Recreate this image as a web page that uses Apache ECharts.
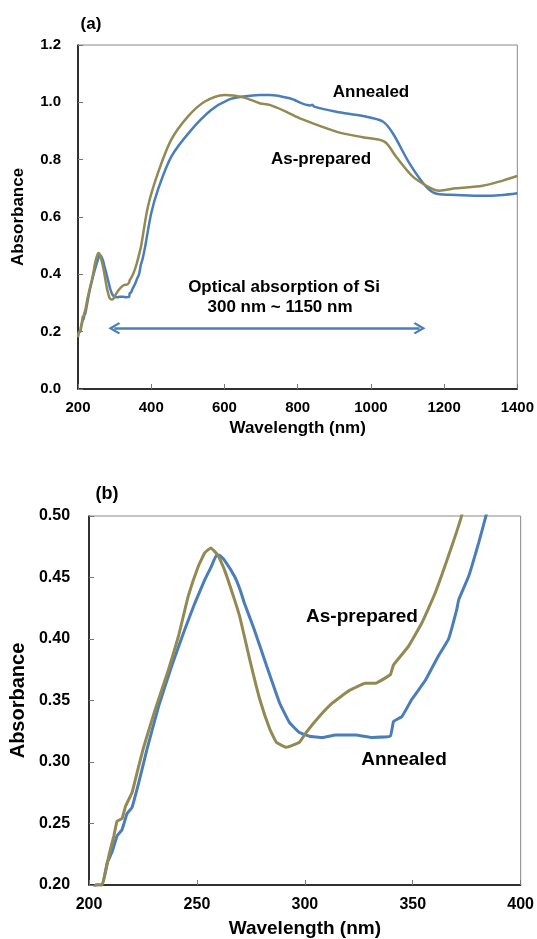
<!DOCTYPE html>
<html>
<head>
<meta charset="utf-8">
<script src="https://cdn.jsdelivr.net/npm/echarts@6/dist/echarts.min.js"></script>
<style>
  html, body { margin: 0; padding: 0; background: #fff; }
  #main { width: 537px; height: 939px; }
</style>
</head>
<body>
<div id="main"></div>
<script>
// wavelength (nm) / absorbance
var annealedNm = [200, 203, 206.1, 208.4, 210.7, 213, 215.3, 217.6, 219.9, 223, 226.8, 232.2, 238.3, 244.4, 249, 253.6,
    256.7, 259, 260.5, 262.8, 267.4, 270, 272, 276.3, 282.5, 288.3, 292.9, 297.5, 302.1, 308.2, 314.3, 323.5,
    331.2, 339.6, 341.1, 345, 349.6, 355.7, 361.8, 366.6, 370.4, 371.3, 375.9, 380.5, 383.9, 400, 418, 454.5,
    509, 563.6, 609, 650.9, 696.3, 723.6, 778.1, 835, 840, 845, 905.4, 978, 1032.6, 1059.9, 1105.4, 1150.9,
    1182.7, 1232.7, 1305.4, 1359.9, 1400];
var annealedAbs = [0.185, 0.200, 0.200, 0.218, 0.227, 0.240, 0.245, 0.258, 0.263, 0.283, 0.310, 0.345, 0.378, 0.408, 0.429, 0.448,
    0.459, 0.468, 0.468, 0.464, 0.451, 0.440, 0.429, 0.409, 0.377, 0.348, 0.332, 0.324, 0.321, 0.320, 0.322, 0.322,
    0.320, 0.321, 0.333, 0.337, 0.351, 0.366, 0.386, 0.400, 0.424, 0.432, 0.451, 0.478, 0.500, 0.613, 0.694, 0.810,
    0.903, 0.973, 1.008, 1.020, 1.026, 1.026, 1.014, 0.989, 0.992, 0.985, 0.967, 0.952, 0.933, 0.892, 0.787, 0.706,
    0.680, 0.677, 0.674, 0.677, 0.683];

var asPreparedNm = [200, 203, 206.1, 209.2, 211.5, 213, 215.3, 216.9, 219.9, 222.2, 225.3, 230.7, 236.8, 241.4, 246, 250.6,
    253.6, 256.4, 259.8, 262.8, 267.4, 270, 274.5, 279.1, 283.7, 286.8, 291.4, 297.5, 300.6, 306.7, 312.8, 320.5,
    328.1, 332.7, 339.6, 341.1, 348, 354.2, 360.3, 368, 372.6, 391, 418, 454.5, 500, 545.5, 600, 650.9,
    696.3, 723.6, 769, 810, 905.4, 978, 1037, 1069, 1114.5, 1169, 1187, 1232.7, 1305, 1360, 1400];
var asPreparedAbs = [0.180, 0.200, 0.200, 0.224, 0.240, 0.252, 0.254, 0.264, 0.275, 0.291, 0.312, 0.343, 0.375, 0.402, 0.435, 0.459,
    0.470, 0.474, 0.468, 0.456, 0.432, 0.417, 0.383, 0.351, 0.327, 0.316, 0.312, 0.316, 0.324, 0.337, 0.348, 0.358,
    0.364, 0.364, 0.371, 0.379, 0.394, 0.413, 0.437, 0.475, 0.500, 0.636, 0.752, 0.869, 0.950, 1.002, 1.026, 1.018,
    0.997, 0.991, 0.967, 0.942, 0.898, 0.878, 0.863, 0.810, 0.741, 0.697, 0.692, 0.700, 0.709, 0.727, 0.743];

// arrow span of the Si absorption band (nm) and its height
var siBandNm = [299, 1133];
var siBandAbs = 0.212;

var BLUE = '#4a7ebb';
var OLIVE = '#938953';
var FONT = '"Liberation Sans", Arial, sans-serif';

function pairs(xs, ys) {
    return xs.map(function (x, i) { return [x, ys[i]]; });
}

function xAxisCfg(idx, min, max, step, fs, margin, gap, nameFs) {
    return {
        gridIndex: idx, type: 'value', min: min, max: max, interval: step,
        name: 'Wavelength (nm)', nameLocation: 'middle', nameGap: gap,
        nameTextStyle: { fontFamily: FONT, fontWeight: 'bold', fontSize: nameFs, color: '#000' },
        axisLine: { show: true, onZero: false, lineStyle: { color: '#000', width: 1.5 } },
        axisTick: { show: true, inside: true, length: 5, lineStyle: { color: '#777' } },
        axisLabel: {
            fontFamily: FONT, fontWeight: 'bold', fontSize: fs, color: '#000', margin: margin,
            formatter: function (v) { return String(v); }
        },
        splitLine: { show: false }
    };
}

function yAxisCfg(idx, min, max, step, digits, fs, margin, gap, nameFs) {
    return {
        gridIndex: idx, type: 'value', min: min, max: max, interval: step,
        name: 'Absorbance', nameLocation: 'middle', nameGap: gap,
        nameTextStyle: { fontFamily: FONT, fontWeight: 'bold', fontSize: nameFs, color: '#000' },
        axisLine: { show: true, onZero: false, lineStyle: { color: '#000', width: 1.5 } },
        axisTick: { show: true, inside: true, length: 5, lineStyle: { color: '#777' } },
        axisLabel: {
            fontFamily: FONT, fontWeight: 'bold', fontSize: fs, color: '#000', margin: margin,
            formatter: function (v) { return v.toFixed(digits); }
        },
        splitLine: { show: false }
    };
}

function label(text, x, y, size) {
    return {
        type: 'text', x: x, y: y, z: 10,
        style: {
            text: text, fill: '#000', font: 'bold ' + size + 'px ' + FONT,
            align: 'center', verticalAlign: 'middle', textAlign: 'center', textVerticalAlign: 'middle'
        }
    };
}

var chart = echarts.init(document.getElementById('main'));

var arrowHead = 'path://M0,0L6,8L4.4,9.2L0,3.4L-4.4,9.2L-6,8Z';

var option = {
    backgroundColor: '#fff',
    animation: false,
    grid: [
        { left: 78, top: 45, width: 440, height: 344, show: true, borderColor: '#888', borderWidth: 1 },
        { left: 88, top: 516, width: 435, height: 370, show: true, borderColor: '#888', borderWidth: 1 }
    ],
    xAxis: [
        xAxisCfg(0, 200, 1400, 200, 15, 11, 31, 17),
        xAxisCfg(1, 200, 400, 50, 16, 12, 34, 19)
    ],
    yAxis: [
        yAxisCfg(0, 0, 1.2, 0.2, 1, 15, 17, 51, 17),
        yAxisCfg(1, 0.2, 0.5, 0.05, 2, 16, 19, 56, 20)
    ],
    series: [
        {
            name: 'As-prepared', type: 'line', xAxisIndex: 0, yAxisIndex: 0,
            data: pairs(asPreparedNm, asPreparedAbs), showSymbol: false, smooth: 0.3,
            lineStyle: { color: OLIVE, width: 2.5 }, z: 3
        },
        {
            name: 'Annealed', type: 'line', xAxisIndex: 0, yAxisIndex: 0,
            data: pairs(annealedNm, annealedAbs), showSymbol: false, smooth: 0.3,
            lineStyle: { color: BLUE, width: 2.5 }, z: 2,
            markLine: {
                silent: true,
                symbol: [arrowHead, arrowHead],
                symbolSize: [12, 12],
                label: { show: false },
                lineStyle: { color: BLUE, width: 2.5, type: 'solid' },
                data: [[{ coord: [siBandNm[0], siBandAbs] }, { coord: [siBandNm[1], siBandAbs] }]]
            }
        },
        {
            name: 'As-prepared', type: 'line', xAxisIndex: 1, yAxisIndex: 1,
            data: pairs(asPreparedNm, asPreparedAbs), showSymbol: false, smooth: 0.1, clip: true,
            lineStyle: { color: OLIVE, width: 3 }, z: 3
        },
        {
            name: 'Annealed', type: 'line', xAxisIndex: 1, yAxisIndex: 1,
            data: pairs(annealedNm, annealedAbs), showSymbol: false, smooth: 0.1, clip: true,
            lineStyle: { color: BLUE, width: 3 }, z: 2
        }
    ],
    graphic: [
        label('(a)', 91, 24, 17),
        label('Annealed', 371, 92, 17),
        label('As-prepared', 321, 159, 17),
        label('Optical absorption of Si', 284, 287, 17),
        label('300 nm ~ 1150 nm', 280, 307, 17),
        label('(b)', 107, 494, 18),
        label('As-prepared', 362, 617, 19),
        label('Annealed', 404, 760, 19)
    ]
};

chart.setOption(option);
</script>
</body>
</html>
